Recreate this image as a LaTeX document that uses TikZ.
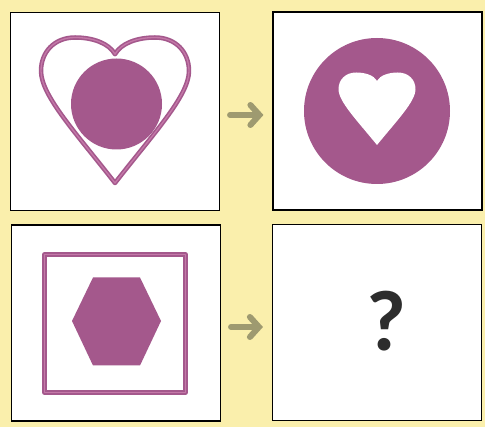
\documentclass[tikz,border=0pt]{standalone}
\usepackage{fontspec}
\newfontfamily\qfont{Carlito}
\usetikzlibrary{arrows.meta}
\definecolor{bg}{RGB}{250,239,172}
\definecolor{plum}{RGB}{164,88,140}
\definecolor{plumlight}{RGB}{196,120,168}
\definecolor{arrowc}{RGB}{158,154,112}
\definecolor{qcol}{RGB}{45,45,45}
\tikzset{
  panel/.style={draw=black, line width=1.1pt, fill=white, inner sep=0pt, minimum width=209pt, minimum height=198pt},
  outlineshape/.style={draw=plum, line width=4.5pt, line join=round},
  outlineinner/.style={draw=plumlight, line width=1.3pt, line join=round},
  goarrow/.style={draw=arrowc, line width=6pt, line cap=round, -{Straight Barb[length=9pt,width=20pt,line cap=round]}}
}
\newcommand{\heartshape}{(0,0.115) .. controls (-0.04,0.04) and (-0.15,0) .. (-0.27,0)
  .. controls (-0.41,0) and (-0.5,0.10) .. (-0.5,0.23)
  .. controls (-0.5,0.40) and (-0.26,0.66) .. (0,1)
  .. controls (0.26,0.66) and (0.5,0.40) .. (0.5,0.23)
  .. controls (0.5,0.10) and (0.41,0) .. (0.27,0)
  .. controls (0.15,0) and (0.04,0.04) .. (0,0.115) -- cycle}
\begin{document}
\begin{tikzpicture}[x=1pt,y=-1pt]
\fill[bg] (0,0) rectangle (485,427);
\useasboundingbox (0,0) rectangle (485,427);
% panels
\node[panel] (b1) at (115,111.5) {};
\node[panel] (b2) at (377.5,111) {};
\node[panel, minimum height=196pt] (b3) at (116,323) {};
\node[panel, minimum height=196pt] (b4) at (377,322.5) {};
% panel 1: heart outline with disc
\begin{scope}[shift={(115,37.5)}, xscale=148, yscale=145.5]
  \draw[outlineshape] \heartshape;
  \draw[outlineinner] \heartshape;
\end{scope}
\fill[plum] (116.5,104) circle[radius=45.5pt];
% panel 2: disc with heart hole
\fill[plum] (377,111) circle[radius=73pt];
\begin{scope}[shift={(377,72.5)}, xscale=77, yscale=72.5]
  \fill[white] \heartshape;
\end{scope}
% panel 3: square outline with hexagon
\draw[outlineshape] (44.5,254.5) rectangle (185.5,392.5);
\draw[outlineinner] (44.5,254.5) rectangle (185.5,392.5);
\fill[plum] (72,321) -- (93,277.5) -- (140,277.5) -- (161,321) -- (140,365.5) -- (93,365.5) -- cycle;
% panel 4: question mark
\node[font=\qfont\bfseries\fontsize{86}{86}\selectfont, text=qcol, inner sep=0pt] (q) at (386,321.5) {?};
% arrows
\draw[goarrow, shorten <=10pt, shorten >=9pt] (b1.east |- 0,115) coordinate (a1s) -- (b2.west |- 0,115) coordinate (a1e);
\draw[goarrow, shorten <=10pt, shorten >=9pt] (b3.east |- 0,327) coordinate (a2s) -- (b4.west |- 0,327) coordinate (a2e);
\end{tikzpicture}
\end{document}
